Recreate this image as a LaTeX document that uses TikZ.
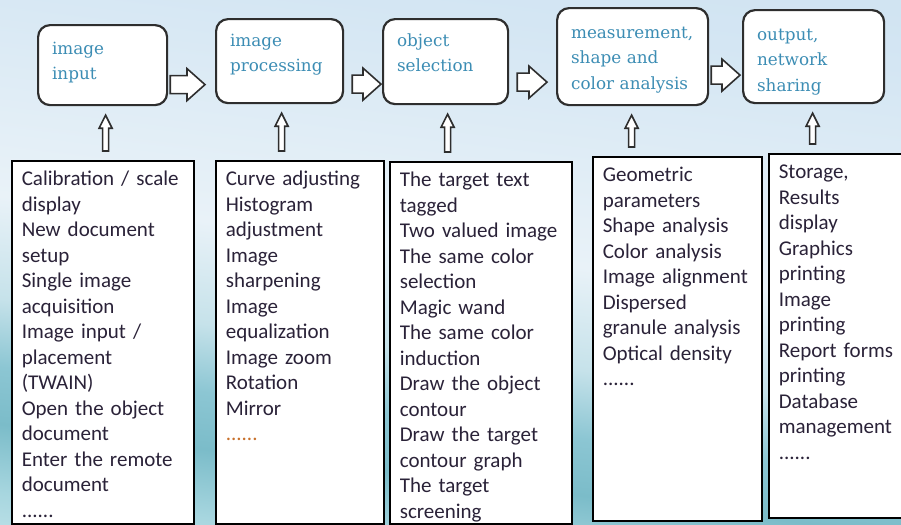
\documentclass[tikz,border=0pt]{standalone}
\usepackage{fontspec}
\setmainfont{Carlito}
\newfontfamily\stagefont{DejaVu Serif}
\usetikzlibrary{calc}
\hyphenpenalty=10000
\definecolor{headblue}{HTML}{3C8DB4}
\definecolor{inkdark}{HTML}{2A2238}
\definecolor{rimgray}{HTML}{2E2E2E}
\definecolor{dotbrown}{HTML}{C8702A}
\definecolor{skyA}{HTML}{C4DAEE}
\definecolor{skyB}{HTML}{D4E6F3}
\definecolor{skyC}{HTML}{E9F2F8}
\definecolor{seaA}{HTML}{C6E2EA}
\definecolor{seaB}{HTML}{8CC6D3}
\definecolor{seaC}{HTML}{7BBCC9}
\definecolor{seaD}{HTML}{A7D6DF}
\definecolor{seaE}{HTML}{D8EEF2}
\definecolor{seaF}{HTML}{F2F9FB}
\pgfdeclareverticalshading{seasky}{100bp}{color(0bp)=(seaF); color(16bp)=(seaE);
  color(25bp)=(seaD); color(31bp)=(seaC); color(36bp)=(seaB); color(42bp)=(seaA);
  color(51bp)=(skyC); color(72bp)=(skyB); color(100bp)=(skyA)}
\tikzset{
  stage/.style={draw=rimgray, line width=1.1pt, rounded corners=6pt, fill=white,
                anchor=north west, align=left, inner xsep=7pt, inner ysep=0pt,
                text height=14.5pt, text=headblue,
                font=\stagefont\fontsize{8.4}{12.75}\selectfont},
  listbox/.style={draw=black, line width=0.8pt, fill=white, anchor=north west,
                  align=left, inner xsep=5pt, inner ysep=0pt, text height=12.5pt,
                  text=inkdark, font=\fontsize{10.5}{12.75}\selectfont},
  hollow/.style={draw=rimgray, line width=0.8pt, fill=white, line join=miter},
}
% fat outlined arrow between two stages: from, to, drop, tail gap, tip gap
\newcommand{\flowarrow}[5]{%
  \draw[hollow] let \p1=(#1.east), \p2=(#2.west) in
    (\x1+#4,\y1-#3+4.5pt) -- (\x2-#5-9pt,\y1-#3+4.5pt) -- (\x2-#5-9pt,\y1-#3+8pt)
    -- (\x2-#5,\y1-#3) -- (\x2-#5-9pt,\y1-#3-8pt) -- (\x2-#5-9pt,\y1-#3-4.5pt)
    -- (\x1+#4,\y1-#3-4.5pt) -- cycle;}
% thin outlined arrow from a list up to its stage: list, stage, sideways shift
\newcommand{\liftarrow}[3]{%
  \draw[hollow] let \p1=($(#2.south)+(#3,0)$), \p2=(#1.north) in
    (\x1-1.5pt,\y2+4.5pt) -- (\x1-1.5pt,\y1-11pt) -- (\x1-3.25pt,\y1-11pt)
    -- (\x1,\y1-4.5pt) -- (\x1+3.25pt,\y1-11pt) -- (\x1+1.5pt,\y1-11pt)
    -- (\x1+1.5pt,\y2+4.5pt) -- cycle;}

\begin{document}
\begin{tikzpicture}[x=0.5pt, y=-0.5pt]
  \useasboundingbox (0,0) rectangle (901,525);
  \shade[shading=seasky, shading angle=-7] (0,0) rectangle (901,525);

  % stages
  \node[stage, text width=50.5pt, text height=14.5pt, text depth=25.5pt] (s1) at (37,24) {image\\input};
  \node[stage, text width=49.5pt, text height=13.5pt, text depth=28.5pt] (s2) at (215,18) {image\\processing};
  \node[stage, text width=48.5pt, text height=13.5pt, text depth=29pt] (s3) at (382,18) {object\\selection};
  \node[stage, text width=61.5pt, text height=15pt, text depth=33.5pt] (s4) at (556,7) {measurement,\\shape and\\color analysis};
  \node[stage, text width=56.5pt, text height=15pt, text depth=31.5pt] (s5) at (742,9) {output,\\network\\sharing};

  % what each stage does
  \node[listbox, text width=81pt, text depth=169pt] (l1) at (11,160)
    {Calibration / scale\\display\\New document\\setup\\Single image\\acquisition\\Image input /\\placement\\(TWAIN)\\Open the object\\document\\Enter the remote\\document\\......};
  \node[listbox, text width=74pt, text depth=169pt] (l2) at (215,160)
    {Curve adjusting\\Histogram\\adjustment\\Image\\sharpening\\Image\\equalization\\Image zoom\\Rotation\\Mirror\\\textcolor{dotbrown}{......}};
  \node[listbox, text width=81pt, text depth=168.5pt] (l3) at (389,161)
    {The target text\\tagged\\Two valued image\\The same color\\selection\\Magic wand\\The same color\\induction\\Draw the object\\contour\\Draw the target\\contour graph\\The target\\screening};
  \node[listbox, text width=74.5pt, text depth=169.5pt] (l4) at (592,156)
    {Geometric\\parameters\\Shape analysis\\Color analysis\\Image alignment\\Dispersed\\granule analysis\\Optical density\\......};
  \node[listbox, text width=65pt, text depth=169.5pt] (l5) at (768,153)
    {Storage,\\Results\\display\\Graphics\\printing\\Image\\printing\\Report forms\\printing\\Database\\management\\......};

  \flowarrow{s1}{s2}{9.75pt}{1pt}{5pt}
  \flowarrow{s2}{s3}{11.5pt}{4pt}{0.5pt}
  \flowarrow{s3}{s4}{10.25pt}{4pt}{4.5pt}
  \flowarrow{s4}{s5}{9.25pt}{1pt}{1pt}

  \liftarrow{l1}{s1}{3}
  \liftarrow{l2}{s2}{2}
  \liftarrow{l3}{s3}{2}
  \liftarrow{l4}{s4}{-1}
  \liftarrow{l5}{s5}{-1}
\end{tikzpicture}
\end{document}
